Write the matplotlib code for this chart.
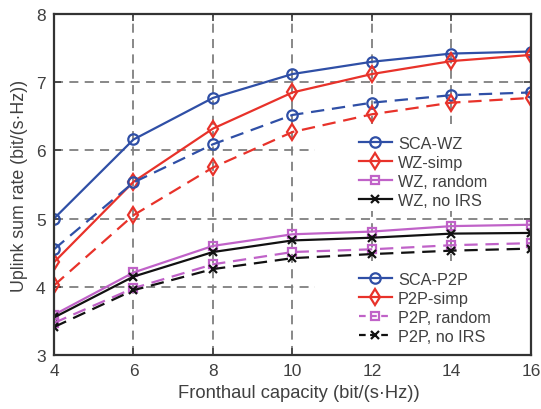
import matplotlib
matplotlib.use("Agg")
import matplotlib.pyplot as plt
from matplotlib.lines import Line2D
from matplotlib.patches import Rectangle

plt.rcParams['font.family'] = ['Liberation Sans', 'DejaVu Sans']

capacity = [4, 6, 8, 10, 12, 14, 16]

sca_wz = [5.00, 6.16, 6.77, 7.12, 7.30, 7.42, 7.45]
wz_simp = [4.36, 5.54, 6.32, 6.85, 7.12, 7.31, 7.40]
wz_random = [3.59, 4.21, 4.60, 4.77, 4.81, 4.89, 4.91]
wz_noirs = [3.55, 4.15, 4.51, 4.68, 4.72, 4.78, 4.79]

sca_p2p = [4.55, 5.53, 6.09, 6.52, 6.70, 6.81, 6.85]
p2p_simp = [4.02, 5.05, 5.75, 6.27, 6.53, 6.70, 6.77]
p2p_random = [3.47, 3.98, 4.33, 4.51, 4.55, 4.61, 4.64]
p2p_noirs = [3.41, 3.95, 4.26, 4.42, 4.48, 4.53, 4.56]

wz_labels = ['SCA-WZ', 'WZ-simp', 'WZ, random', 'WZ, no IRS']
p2p_labels = ['SCA-P2P', 'P2P-simp', 'P2P, random', 'P2P, no IRS']

BLUE = '#2f4fa6'
RED = '#e8322a'
PURPLE = '#c062c8'
BLACK = '#111111'
TXT = '#404040'

fig = plt.figure(figsize=(5.41, 4.10), dpi=100)
ax = fig.add_axes([0.0998, 0.1317, 0.8817, 0.8317])

lw = 1.6
ms = 7.5
dash = (6, 3.5)
styles = [
    (BLUE, 'o', ms),
    (RED, 'd', ms + 1),
    (PURPLE, 's', ms - 1.5),
    (BLACK, 'x', ms - 1.5),
]

wz_series = [sca_wz, wz_simp, wz_random, wz_noirs]
p2p_series = [sca_p2p, p2p_simp, p2p_random, p2p_noirs]

for (c, m, s), y in zip(styles, wz_series):
    ax.plot(capacity, y, color=c, marker=m, markersize=s, markerfacecolor='none',
            markeredgewidth=1.6, linewidth=lw, zorder=3)
for (c, m, s), y in zip(styles, p2p_series):
    ax.plot(capacity, y, color=c, marker=m, markersize=s, markerfacecolor='none',
            markeredgewidth=1.6, linewidth=lw, linestyle=(0, dash), zorder=3)

ax.set_xlim(4, 16)
ax.set_ylim(3, 8)
ax.set_xticks(capacity)
ax.set_yticks([3, 4, 5, 6, 7, 8])
ax.grid(True, color='#7f7f7f', linestyle=(0, (5, 3.5)), linewidth=1.3, zorder=1)
ax.set_axisbelow(True)
ax.tick_params(direction='in', top=True, right=True, length=5, width=1.2,
               labelsize=12.5, colors=TXT, pad=6)
for sp in ax.spines.values():
    sp.set_color('#333333')
    sp.set_linewidth(1.6)
    sp.set_zorder(6)

ax.set_xlabel('Fronthaul capacity (bit/(s\u00b7Hz))', fontsize=13.2, color=TXT, labelpad=8)
ax.xaxis.set_label_coords(0.514, -0.085)
ax.set_ylabel('Uplink sum rate (bit/(s\u00b7Hz))', fontsize=12.8, color=TXT, labelpad=6)

# white legend boxes (cover the grid, as in the reference)
for (y0, h) in [(0.422, 0.255), (0.0, 0.276)]:
    ax.add_patch(Rectangle((0.547, y0), 0.453, h, transform=ax.transAxes,
                           facecolor='white', edgecolor='none', zorder=2))

def handles(dashed_flags):
    hs = []
    for (c, m, s), d in zip(styles, dashed_flags):
        hs.append(Line2D([], [], color=c, marker=m, markersize=s, markerfacecolor='none',
                         markeredgewidth=1.6, linewidth=lw,
                         linestyle=(0, (3, 2)) if d else '-'))
    return hs

leg_kw = dict(loc='upper left', fontsize=11.7, frameon=False, handlelength=2.0,
              handletextpad=0.4, labelspacing=0.25, borderpad=0.4, labelcolor=TXT)
leg1 = ax.legend(handles(['', '', '', '']), wz_labels,
                 bbox_to_anchor=(0.609, 0.686), **leg_kw)
leg1.set_zorder(5)
ax.add_artist(leg1)
leg2 = ax.legend(handles(['', '', 'd', 'd']), p2p_labels,
                 bbox_to_anchor=(0.609, 0.287), **leg_kw)
leg2.set_zorder(5)

fig.savefig('out.png', dpi=100)
